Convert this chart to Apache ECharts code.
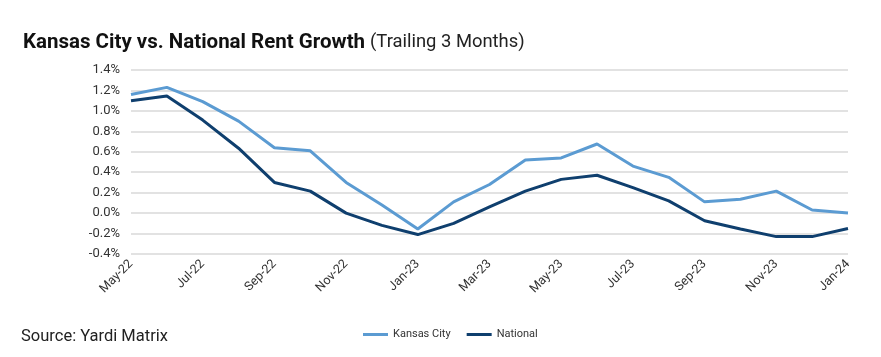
<!DOCTYPE html>
<html><head><meta charset="utf-8">
<script src="https://cdn.jsdelivr.net/npm/echarts@6/dist/echarts.min.js"></script>
<style>html,body{margin:0;padding:0;background:#fff}#c{width:881px;height:357px}</style>
</head><body><div id="c"></div>
<script>
const categories = ["May-22","Jun-22","Jul-22","Aug-22","Sep-22","Oct-22","Nov-22","Dec-22","Jan-23","Feb-23","Mar-23","Apr-23","May-23","Jun-23","Jul-23","Aug-23","Sep-23","Oct-23","Nov-23","Dec-23","Jan-24"];
const kansasCity = [1.16,1.23,1.09,0.90,0.64,0.61,0.30,0.08,-0.155,0.11,0.28,0.52,0.54,0.676,0.46,0.35,0.11,0.135,0.215,0.03,0.00];
const national = [1.10,1.145,0.91,0.635,0.30,0.215,0.00,-0.12,-0.21,-0.10,0.06,0.215,0.33,0.37,0.25,0.12,-0.075,-0.155,-0.23,-0.23,-0.15];
const yTicks = {min:-0.4, max:1.4, step:0.2};
const seriesNames = ["Kansas City","National"];
const colors = ["#5b9bd2","#0f3f6e"];

const chart = echarts.init(document.getElementById('c'));
chart.setOption({
  animation:false,
  title:{
    left:18, top:27,
    text:'{b|Kansas City vs. National Rent Growth} {n|(Trailing 3 Months)}',
    textStyle:{rich:{
      b:{fontFamily:'Roboto',fontWeight:'bold',fontSize:20.5,color:'#111'},
      n:{fontFamily:'Roboto',fontWeight:'normal',fontSize:18.4,color:'#222'}
    }}
  },
  graphic:[{type:'text',left:21,top:328,style:{text:'Source: Yardi Matrix',font:'16.5px Roboto',fill:'#222'}}],
  legend:{
    left:358, top:324, icon:'rect', itemWidth:25, itemHeight:3, itemGap:16,
    textStyle:{fontFamily:'Roboto',fontSize:11,color:'#333'},
    data:seriesNames
  },
  grid:{left:131,right:33,top:70,bottom:103,containLabel:false},
  xAxis:{
    type:'category', boundaryGap:false, data:categories,
    axisLine:{show:false}, axisTick:{show:false},
    axisLabel:{interval:1,rotate:45,fontFamily:'Roboto',fontSize:12.5,color:'#333',margin:8}
  },
  yAxis:{
    type:'value', min:yTicks.min, max:yTicks.max, interval:yTicks.step,
    axisLine:{show:false}, axisTick:{show:false},
    axisLabel:{fontFamily:'Roboto',fontSize:13,color:'#333',margin:11,formatter:v=>v.toFixed(1)+'%'},
    splitLine:{lineStyle:{color:'#d9d9d9',width:1.5}}
  },
  series:[
    {name:seriesNames[0],type:'line',data:kansasCity,symbol:'none',lineStyle:{width:3,color:colors[0]},itemStyle:{color:colors[0]}},
    {name:seriesNames[1],type:'line',data:national,symbol:'none',lineStyle:{width:3,color:colors[1]},itemStyle:{color:colors[1]}}
  ]
});
</script></body></html>
